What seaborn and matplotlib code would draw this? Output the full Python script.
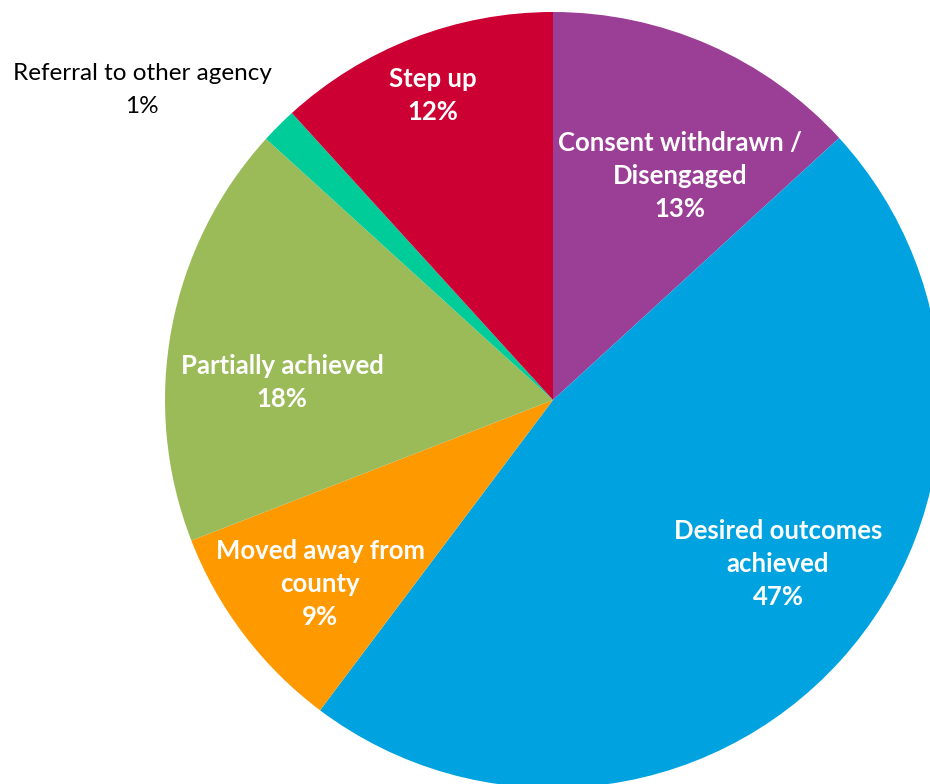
import numpy as np
import seaborn as sns
import matplotlib.pyplot as plt

# Data (clockwise from 12 o'clock)
categories = ['Consent withdrawn /\nDisengaged', 'Desired outcomes\nachieved', 'Moved away from\ncounty',
              'Partially achieved', 'Referral to other agency', 'Step up']
shares = [13.2, 47.05, 8.85, 17.65, 1.5, 11.75]
pct_labels = ['13%', '47%', '9%', '18%', '1%', '12%']
colors = ['#9B3E95', '#00A3E0', '#FF9900', '#9BBB59', '#00CC99', '#CC0033']

sns.set_theme(style='white')
plt.rcParams['font.family'] = ['Lato', 'DejaVu Sans']

W, H = 930, 784
fig = plt.figure(figsize=(W / 100, H / 100), dpi=100)
cx, cy, r = 553, 400, 388
ax = fig.add_axes([(cx - r) / W, (H - cy - r) / H, 2 * r / W, 2 * r / H])

wedges, _ = ax.pie(shares, colors=colors, startangle=90, counterclock=False, radius=1,
                   wedgeprops=dict(linewidth=0))
ax.set_xlim(-1, 1)
ax.set_ylim(-1, 1)
ax.set_aspect('equal')
ax.axis('off')

# label positions in pie (data) units
label_pos = [(0.327, 0.577), (0.580, -0.423), (-0.600, -0.474),
             (-0.698, 0.044), (-1.059, 0.799), (-0.309, 0.784)]
for cat, pct, (x, y) in zip(categories, pct_labels, label_pos):
    inside = not cat.startswith('Referral')
    ax.text(x, y, f'{cat}\n{pct}', ha='center', va='center',
            fontsize=18.5 if inside else 17.5,
            color='white' if inside else 'black',
            fontweight='bold' if inside else 'normal',
            linespacing=1.45 if inside else 1.65, clip_on=False)

fig.savefig('out.png', dpi=100)
